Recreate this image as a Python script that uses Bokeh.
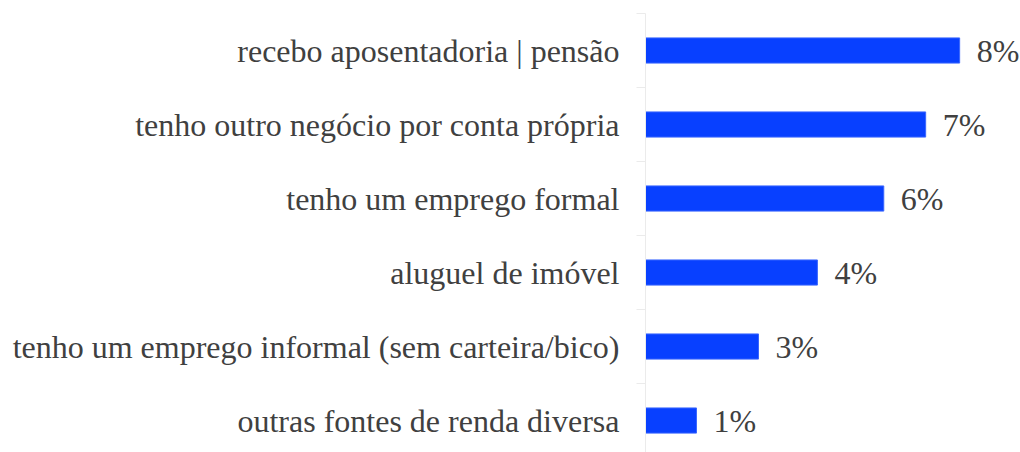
from bokeh.plotting import figure
from bokeh.models import Range1d, FixedTicker, ColumnDataSource, LabelSet
from bokeh.core.properties import value
from bokeh.embed import file_html
from bokeh.resources import INLINE

categories = [
    "recebo aposentadoria | pensão",
    "tenho outro negócio por conta própria",
    "tenho um emprego formal",
    "aluguel de imóvel",
    "tenho um emprego informal (sem carteira/bico)",
    "outras fontes de renda diversa",
]
values = [7.95, 7.09, 6.03, 4.35, 2.86, 1.29]
labels = ["8%", "7%", "6%", "4%", "3%", "1%"]

n = len(categories)
ypos = [n - 1 - i for i in range(n)]

FONT = "Liberation Serif"
TXT = "#404040"
AX = "#ebebeb"

p = figure(width=1020, height=452, output_backend="svg", toolbar_location=None,
           x_range=Range1d(0, 9.49), y_range=Range1d(-0.432, n - 0.5),
           min_border_left=645, min_border_right=0, min_border_top=13,
           min_border_bottom=0)

src = ColumnDataSource(dict(y=ypos, v=values, lab=labels))
p.hbar(y="y", right="v", left=0, height=0.34, source=src,
       fill_color="#0840FF", line_color="#3a66ff", line_width=1)

p.add_layout(LabelSet(x="v", y="y", text="lab", source=src, x_offset=17,
                      text_baseline="middle", text_align="left",
                      text_font=value(FONT), text_font_size="32px",
                      text_color=TXT))

p.xaxis.visible = False
p.xgrid.visible = False
p.ygrid.visible = False
p.outline_line_color = None

ax = p.yaxis[0]
ax.ticker = FixedTicker(ticks=ypos, minor_ticks=[k - 0.5 for k in range(n + 1)])
ax.major_label_overrides = {y: c for y, c in zip(ypos, categories)}
ax.major_tick_out = 0
ax.major_tick_in = 0
ax.major_tick_line_color = None
ax.minor_tick_out = 9
ax.minor_tick_in = 0
ax.minor_tick_line_color = AX
ax.axis_line_color = AX
ax.major_label_text_font = FONT
ax.major_label_text_font_size = "32px"
ax.major_label_text_color = TXT
ax.major_label_standoff = 17

open("out.html", "w").write(file_html(p, INLINE))
